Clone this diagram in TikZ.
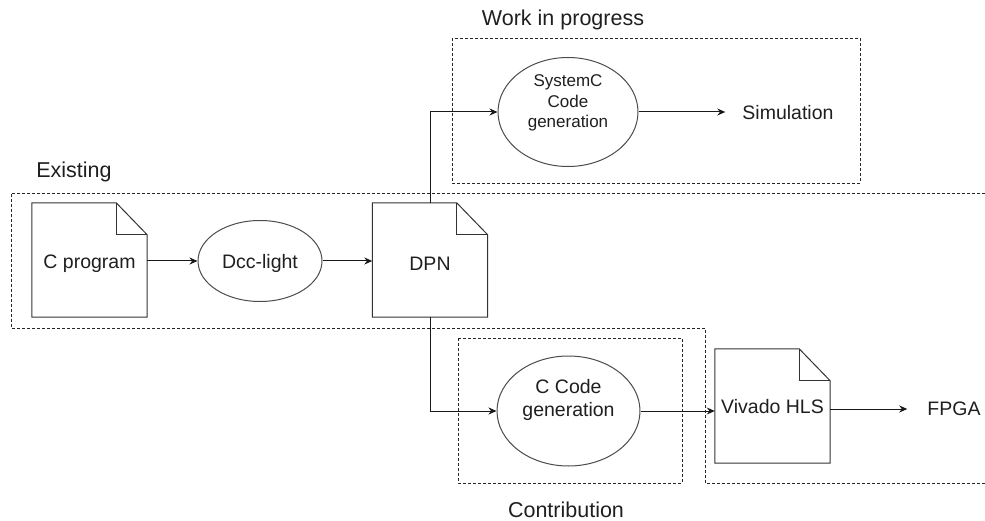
\documentclass[tikz,border=0pt]{standalone}
\usepackage{fontspec}
\setmainfont{Liberation Sans}
\usetikzlibrary{shapes.geometric,arrows.meta}
\begin{document}
\begin{tikzpicture}[x=1pt,y=-1pt,
  txt/.style={font=\fontsize{19.5}{23.5}\selectfont, text=black!88, align=center},
  small/.style={font=\fontsize{17}{20.5}\selectfont, text=black!88, align=center},
  big/.style={font=\fontsize{21.5}{25}\selectfont, text=black!88},
  region/.style={draw=black!85, line width=0.8pt, dash pattern=on 3pt off 2pt},
  docbox/.style={minimum width=115pt, minimum height=114pt, inner sep=0pt},
  docline/.style={draw=black!80, line width=1pt, fill=white},
  ell/.style={ellipse, draw=black!70, line width=1pt, inner sep=0pt, fill=white},
  arr/.style={draw=black!90, line width=1pt, -{Stealth[length=8pt,width=7pt]}},
  conn/.style={draw=black!90, line width=1pt}]
\useasboundingbox (0,0) rectangle (985,521);

% dashed regions
\draw[region] (985,193) -- (11,193) -- (11,328) -- (705,328) -- (705,483) -- (985,483);
\draw[region] (452,38) rectangle (860,183);
\draw[region] (458,338) rectangle (682,483);

% region labels
\node[big] (lexist) at (74,172) {Existing};
\node[big] (lwip) at (563,20) {Work in progress};
\node[big, inner sep=0pt] (lcontr) at (566,509.5) {Contribution};

% document nodes
\node[docbox] (cprog) at (89.5,260) {};
\node[docbox] (dpn) at (430,260) {};
\node[docbox] (viv) at (772.5,406) {};
\foreach \n in {cprog,dpn,viv}{
  \draw[docline] (\n.north west) -- ([xshift=-31pt]\n.north east)
     -- ([yshift=-32pt]\n.north east) -- (\n.south east) -- (\n.south west) -- cycle;
  \draw[docline, fill=none] ([xshift=-31pt]\n.north east) -- ([xshift=-31pt,yshift=-32pt]\n.north east)
     -- ([yshift=-32pt]\n.north east);
}
\node[txt] (cprogt) at (89.5,264) {C program};
\node[txt] (dpnt) at (430,264) {DPN};
\node[txt] (vivt) at (772.5,407) {Vivado HLS};

% ellipses
\node[ell, minimum width=124pt, minimum height=81pt] (dcc) at (260,261) {};
\node[txt] (dcct) at (260,263) {Dcc-light};
\node[ell, minimum width=140pt, minimum height=109pt] (sysc) at (568,112) {};
\node[small] (sysct) at (568,103) {SystemC\\Code\\generation};
\node[ell, minimum width=143pt, minimum height=110pt] (ccode) at (568.5,411) {};
\node[txt] (ccodet) at (568.5,400) {C Code\\generation};

% plain texts
\node[txt, inner xsep=17pt] (sim) at (788,113) {Simulation};
\node[txt, inner xsep=20pt] (fpga) at (954,409) {FPGA};

% connectors
\draw[arr] (cprog.east |- dcc.west) -- (dcc.west);
\draw[arr] (dcc.east) -- (dcc.east -| dpn.west);
\draw[arr] (dpn.north) |- (sysc.west);
\draw[arr] (dpn.south) |- (ccode.west);
\draw[arr] (sysc.east) -- (sysc.east -| sim.west);
\draw[arr] (ccode.east) -- (ccode.east -| viv.west);
\draw[arr] (viv.east |- fpga.west) -- (fpga.west);
\end{tikzpicture}
\end{document}
